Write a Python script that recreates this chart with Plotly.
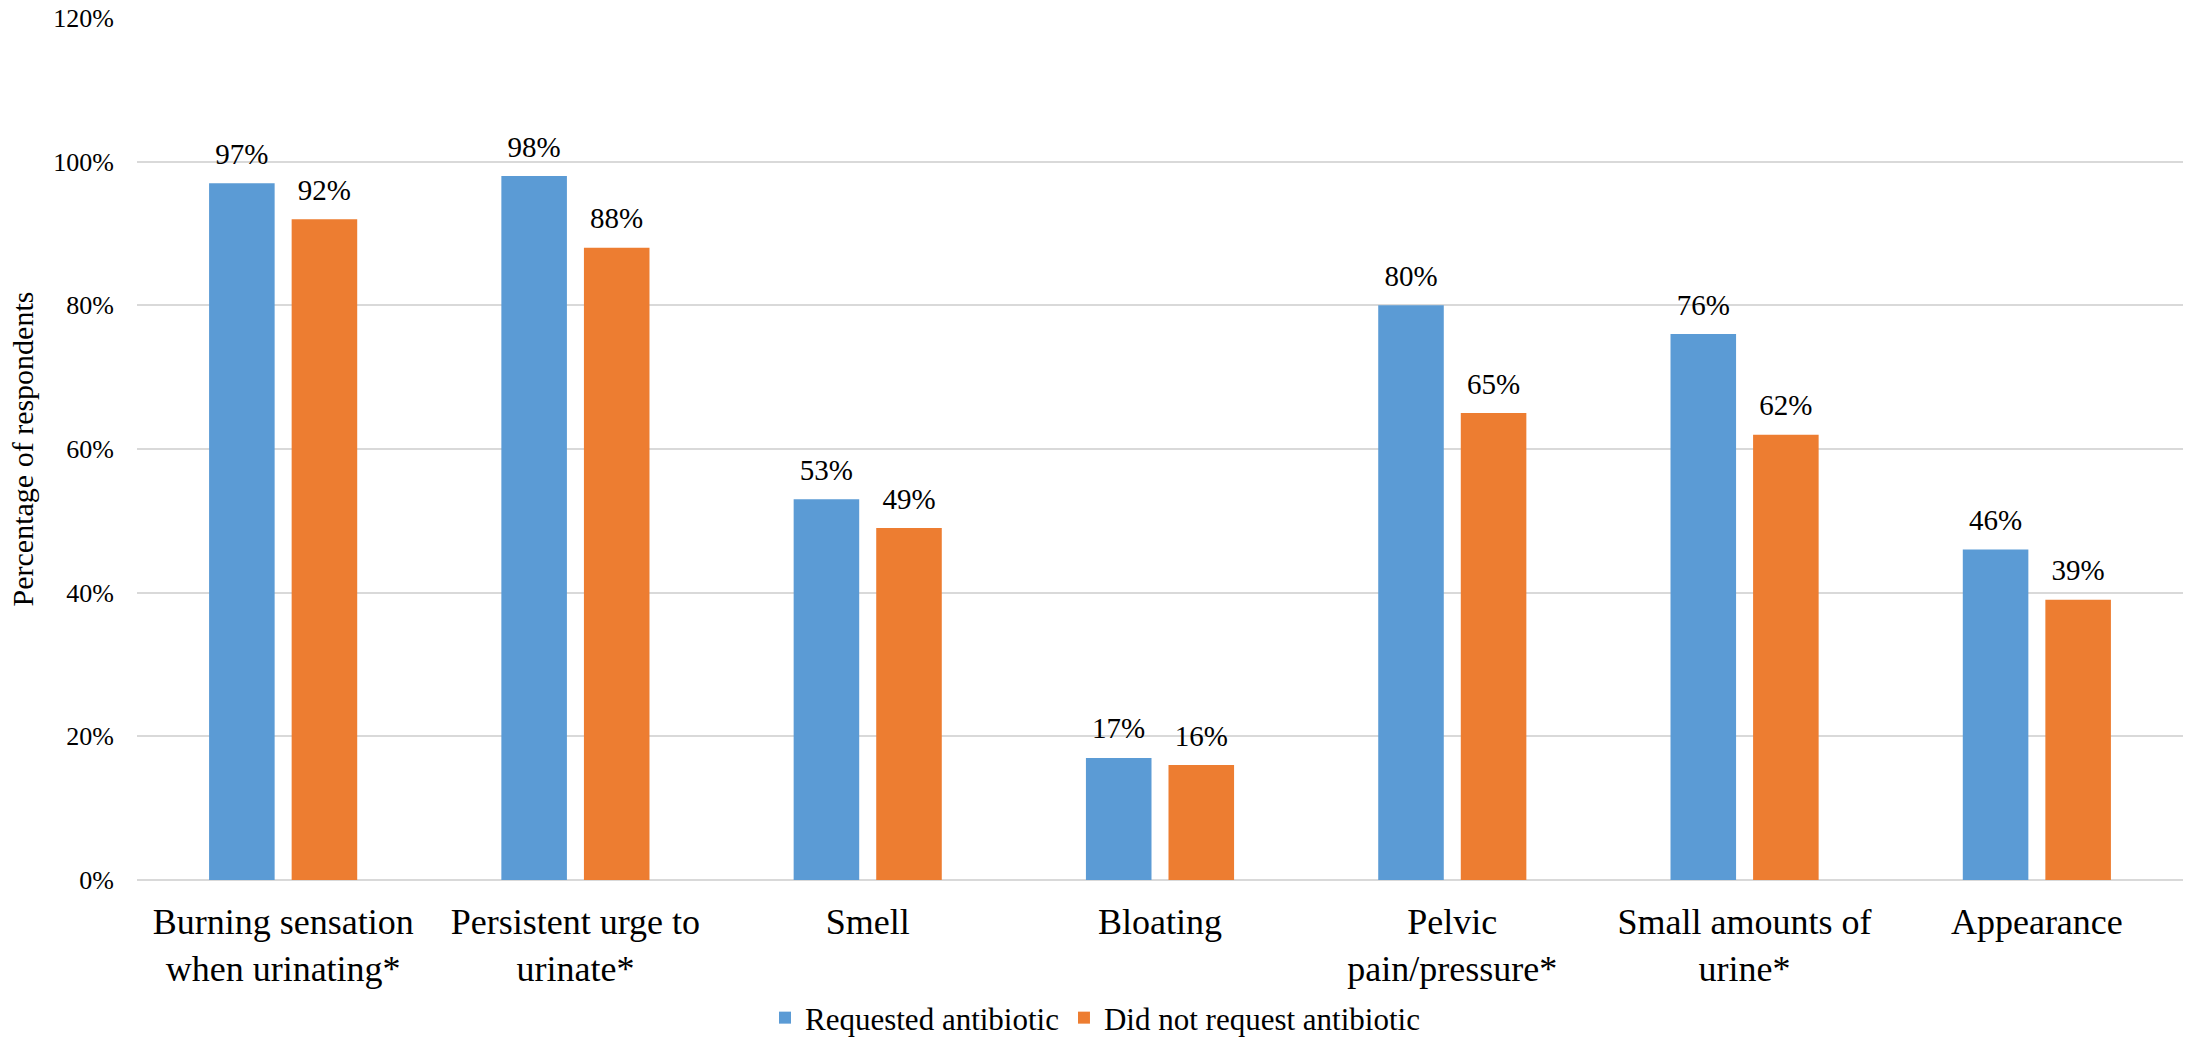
import plotly.graph_objects as go

categories = [
    "Burning sensation<br>when urinating*",
    "Persistent urge to<br>urinate*",
    "Smell",
    "Bloating",
    "Pelvic<br>pain/pressure*",
    "Small amounts of<br>urine*",
    "Appearance",
]
requested = [97, 98, 53, 17, 80, 76, 46]
not_requested = [92, 88, 49, 16, 65, 62, 39]
series_names = ["Requested antibiotic", "Did not request antibiotic"]
y_ticks = [0, 20, 40, 60, 80, 100, 120]

BLUE = "#5B9BD5"
ORANGE = "#ED7D31"
FONT = "Liberation Serif"
GAP = 0.435

fig = go.Figure()
series = [(series_names[0], requested, BLUE, "a"), (series_names[1], not_requested, ORANGE, "b")]
for name, vals, col, grp in series:
    fig.add_trace(go.Bar(
        x=categories, y=vals, name=name,
        marker=dict(color=col, line=dict(width=0)),
        offsetgroup=grp, alignmentgroup="g",
    ))
for name, vals, col, grp in series:
    fig.add_trace(go.Scatter(
        x=categories, y=vals, name=name + " labels",
        mode="markers+text",
        marker=dict(size=18, opacity=0, color=col),
        text=[f"{v}%" for v in vals],
        textposition="top center",
        textfont=dict(family=FONT, size=29, color="#000000"),
        offsetgroup=grp, alignmentgroup="g", orientation="v",
        showlegend=False, hoverinfo="skip", cliponaxis=False,
    ))

fig.update_layout(
    width=2190, height=1045,
    margin=dict(l=137, r=7, t=18, b=165),
    paper_bgcolor="white", plot_bgcolor="white",
    barmode="group", bargap=GAP, bargroupgap=0.206,
    scattermode="group", scattergap=GAP,
    font=dict(family=FONT, color="#000000"),
    showlegend=True,
    legend=dict(
        orientation="h", xref="container", yref="container",
        x=0.5, xanchor="center", y=0.0, yanchor="bottom",
        font=dict(family=FONT, size=31, color="#000000"),
        traceorder="normal",
    ),
)
fig.update_xaxes(
    showgrid=False, showline=False, ticks="",
    tickfont=dict(family=FONT, size=36, color="#000000"),
    tickangle=0, automargin=False, ticklabelstandoff=17,
)
fig.update_yaxes(
    range=[0, 120], tickvals=y_ticks, ticktext=[f"{t}%" for t in y_ticks],
    showgrid=True, gridcolor="#D9D9D9", gridwidth=1.5,
    zeroline=True, zerolinecolor="#D9D9D9", zerolinewidth=1.5,
    showline=False, ticks="", ticklabelstandoff=22,
    tickfont=dict(family=FONT, size=26, color="#000000"),
    title=dict(text="Percentage of respondents", font=dict(family=FONT, size=30, color="#000000"), standoff=10),
    automargin=False,
)

fig.write_html("out.html")
